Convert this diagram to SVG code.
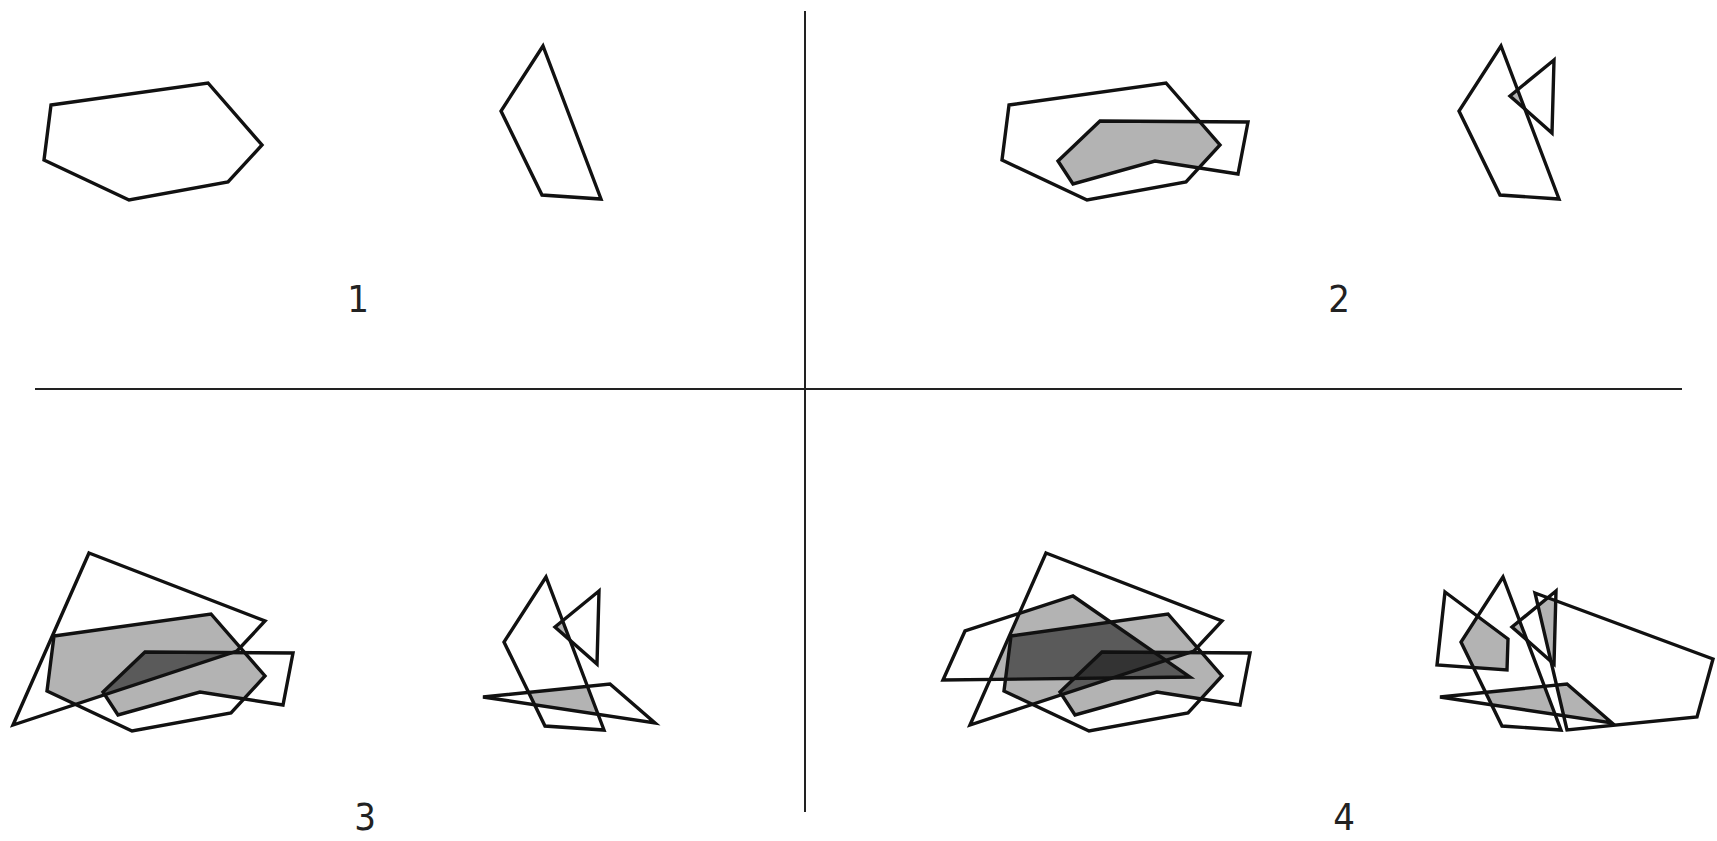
<svg xmlns="http://www.w3.org/2000/svg" xmlns:xlink="http://www.w3.org/1999/xlink" width="1717" height="841" viewBox="0 0 1717 841">
<style>
.o{fill:none;stroke:#111;stroke-width:3.4;stroke-linejoin:miter}
.g2{fill:#b3b3b3}
.g3{fill:#5a5a5a}
.g4{fill:#333333}
.div{stroke:#222;stroke-width:2}
.lbl{font-family:"DejaVu Sans Condensed","Liberation Sans Narrow","Liberation Sans",sans-serif;font-stretch:condensed;font-size:38px;fill:#222;text-anchor:middle}
</style>
<defs>
<polygon id="H" points="51,105 208,83 262,145 228,182 129,200 44,160"/>
<polygon id="S" points="142,121 290,122 280,174 197,161 115,184 100,161"/>
<polygon id="T" points="86,22 262,90 234,120 10,194"/>
<polygon id="U" points="-17,149 5,100 113,65 230,146"/>
<polygon id="Q" points="543,46 501,111 542,195 601,199"/>
<polygon id="V" points="596,60 552,96 594,133"/>
<polygon id="W" points="480,166 607,153 652,192"/>
<polygon id="X" points="575,62 753,128 737,186 607,199"/>
<polygon id="Y" points="485,61 548,108 547,139 477,134"/>
<clipPath id="cH"><use xlink:href="#H"/></clipPath>
<clipPath id="cS"><use xlink:href="#S"/></clipPath>
<clipPath id="cT"><use xlink:href="#T"/></clipPath>
<clipPath id="cU"><use xlink:href="#U"/></clipPath>
<clipPath id="cQ"><use xlink:href="#Q"/></clipPath>
<clipPath id="cX"><use xlink:href="#X"/></clipPath>
</defs>

<g id="dividers">
<line class="div" x1="805" y1="11" x2="805" y2="812"/>
<line class="div" x1="35" y1="389" x2="1682" y2="389"/>
</g>

<g id="panel1">
<use class="o" xlink:href="#H"/>
<use class="o" xlink:href="#Q"/>
<text class="lbl" x="358" y="312">1</text>
</g>

<g id="panel2">
<g transform="translate(958,0)">
<use class="g2" xlink:href="#S" clip-path="url(#cH)"/>
<use class="g2" xlink:href="#V" clip-path="url(#cQ)"/>
<use class="o" xlink:href="#H"/>
<use class="o" xlink:href="#S"/>
<use class="o" xlink:href="#Q"/>
<use class="o" xlink:href="#V"/>
</g>
<text class="lbl" x="1339" y="312">2</text>
</g>

<g id="panel3">
<g transform="translate(3,531)">
<use class="g2" xlink:href="#S" clip-path="url(#cH)"/>
<use class="g2" xlink:href="#T" clip-path="url(#cH)"/>
<use class="g2" xlink:href="#T" clip-path="url(#cS)"/>
<g clip-path="url(#cH)"><use class="g3" xlink:href="#S" clip-path="url(#cT)"/></g>
<use class="g2" xlink:href="#V" clip-path="url(#cQ)"/>
<use class="g2" xlink:href="#W" clip-path="url(#cQ)"/>
<use class="o" xlink:href="#H"/>
<use class="o" xlink:href="#S"/>
<use class="o" xlink:href="#T"/>
<use class="o" xlink:href="#Q"/>
<use class="o" xlink:href="#V"/>
<use class="o" xlink:href="#W"/>
</g>
<text class="lbl" x="365" y="830">3</text>
</g>

<g id="panel4">
<g transform="translate(960,531)">
<use class="g2" xlink:href="#S" clip-path="url(#cH)"/>
<use class="g2" xlink:href="#T" clip-path="url(#cH)"/>
<use class="g2" xlink:href="#U" clip-path="url(#cH)"/>
<use class="g2" xlink:href="#T" clip-path="url(#cS)"/>
<use class="g2" xlink:href="#U" clip-path="url(#cS)"/>
<use class="g2" xlink:href="#U" clip-path="url(#cT)"/>
<g clip-path="url(#cH)"><use class="g3" xlink:href="#S" clip-path="url(#cT)"/></g>
<g clip-path="url(#cH)"><use class="g3" xlink:href="#S" clip-path="url(#cU)"/></g>
<g clip-path="url(#cH)"><use class="g3" xlink:href="#T" clip-path="url(#cU)"/></g>
<g clip-path="url(#cS)"><use class="g3" xlink:href="#T" clip-path="url(#cU)"/></g>
<g clip-path="url(#cH)"><g clip-path="url(#cS)"><use class="g4" xlink:href="#T" clip-path="url(#cU)"/></g></g>
<use class="g2" xlink:href="#V" clip-path="url(#cQ)"/>
<use class="g2" xlink:href="#W" clip-path="url(#cQ)"/>
<use class="g2" xlink:href="#Y" clip-path="url(#cQ)"/>
<use class="g2" xlink:href="#V" clip-path="url(#cX)"/>
<use class="g2" xlink:href="#W" clip-path="url(#cX)"/>
<use class="o" xlink:href="#H"/>
<use class="o" xlink:href="#S"/>
<use class="o" xlink:href="#T"/>
<use class="o" xlink:href="#U"/>
<use class="o" xlink:href="#Q"/>
<use class="o" xlink:href="#V"/>
<use class="o" xlink:href="#W"/>
<use class="o" xlink:href="#X"/>
<use class="o" xlink:href="#Y"/>
</g>
<text class="lbl" x="1344" y="830">4</text>
</g>
</svg>
